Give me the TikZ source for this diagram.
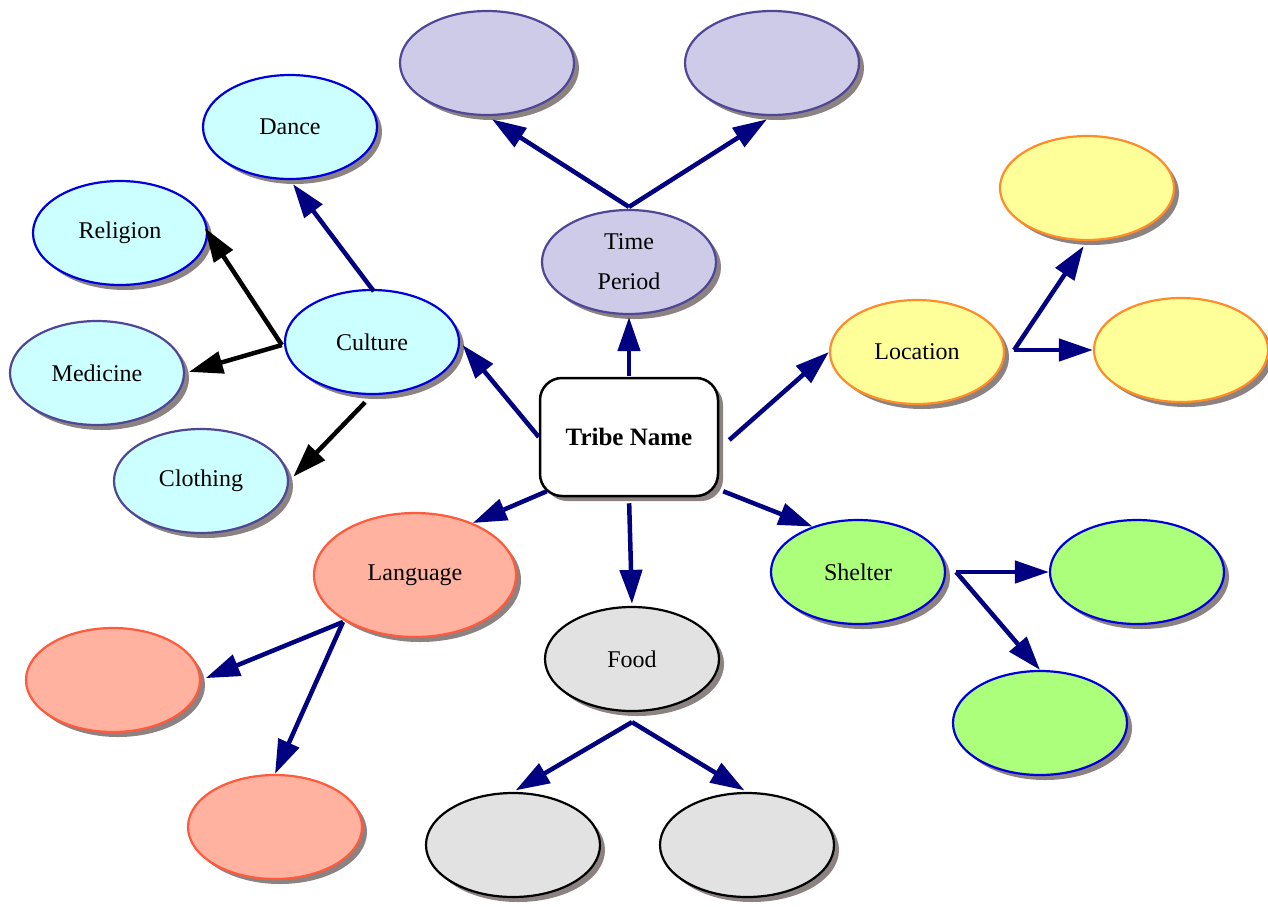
\documentclass[tikz,border=0pt]{standalone}
\usepackage{fontspec}
\setmainfont{Liberation Serif}
\usetikzlibrary{shapes.geometric,arrows.meta,shadows,calc}
\definecolor{navyc}{RGB}{0,0,128}
\definecolor{shadowc}{RGB}{140,130,130}
\definecolor{tpfill}{RGB}{206,203,232}
\definecolor{tpline}{RGB}{80,70,150}
\definecolor{cyfill}{RGB}{204,255,255}
\definecolor{blueline}{RGB}{0,0,220}
\definecolor{yefill}{RGB}{255,255,153}
\definecolor{orline}{RGB}{255,140,40}
\definecolor{grfill}{RGB}{172,255,122}
\definecolor{safill}{RGB}{255,178,160}
\definecolor{saline}{RGB}{255,90,60}
\definecolor{gyfill}{RGB}{226,226,226}
\tikzset{
  bubble/.style={ellipse, minimum width=174pt, minimum height=104pt, inner sep=0pt,
    line width=2.2pt, font=\fontsize{24}{40}\selectfont, align=center,
    drop shadow={shadow xshift=5pt, shadow yshift=-5pt, fill=shadowc, opacity=1}},
  tpb/.style={bubble, fill=tpfill, draw=tpline},
  cyb/.style={bubble, fill=cyfill, draw=blueline},
  cyp/.style={bubble, fill=cyfill, draw=tpline},
  yeb/.style={bubble, fill=yefill, draw=orline},
  grb/.style={bubble, fill=grfill, draw=blueline},
  sab/.style={bubble, fill=safill, draw=saline},
  gyb/.style={bubble, fill=gyfill, draw=black},
  conn/.style={line width=4.5pt, draw=navyc, -{Triangle[length=34pt,width=22pt]}},
  bconn/.style={conn, draw=black},
}
\begin{document}
\begin{tikzpicture}[x=1pt,y=-1pt]
\useasboundingbox (0,0) rectangle (1268,906);
% nodes
\node[draw, line width=2.5pt, rounded corners=22pt, fill=white, minimum width=178pt, minimum height=118pt,
  font=\bfseries\fontsize{25}{28}\selectfont,
  drop shadow={shadow xshift=5pt, shadow yshift=-5pt, fill=shadowc, opacity=1}] (tribe) at (629,437) {Tribe Name};
\node[tpb] (tp) at (629,262) {Time\\Period};
\node[tpb] (tpl) at (487,63) {};
\node[tpb] (tpr) at (772,63) {};
\node[cyb] (culture) at (372,342) {Culture};
\node[cyb] (dance) at (290,127) {Dance};
\node[cyb] (religion) at (120,233) {Religion};
\node[cyp] (medicine) at (97,373) {Medicine};
\node[cyp] (clothing) at (201,481) {Clothing};
\node[yeb] (location) at (917,352) {Location};
\node[yeb] (loctop) at (1087,188) {};
\node[yeb] (locright) at (1181,350) {};
\node[grb] (shelter) at (858,572) {Shelter};
\node[grb] (shright) at (1137,572) {};
\node[grb] (shbottom) at (1040,723) {};
\node[sab, minimum width=202pt, minimum height=124pt] (language) at (415,575) {Language};
\node[sab] (langleft) at (113,680) {};
\node[sab] (langbottom) at (275,827) {};
\node[gyb] (food) at (632,659) {Food};
\node[gyb] (foodl) at (513,845) {};
\node[gyb] (foodr) at (747,845) {};
% branch points
\coordinate (tloc) at ($(tribe.east)+(10,3)$);
\coordinate (tsh) at ($(tribe.south east)+(4,-6)$);
\coordinate (tlang) at ($(tribe.south west)+(8,-6)$);
\coordinate (tpb) at ($(tp.north)+(0,-2)$);
\coordinate (culb) at ($(culture.west)+(-2,3)$);
\coordinate (locb) at ($(location.east)+(9,-2)$);
\coordinate (shb) at ($(shelter.east)+(10,0)$);
\coordinate (langb) at (343,622);
\coordinate (foodb) at ($(food.south)+(0,10)$);
% connectors from center
\draw[conn, shorten <=1pt, shorten >=2pt] (tribe.north) -- (tp.south);
\draw[conn, shorten >=4pt] (tribe.west) -- (culture.east);
\draw[conn] (tloc) -- (location.west);
\draw[conn] (tsh) -- (shelter.135);
\draw[conn, shorten <=6pt, shorten >=2pt] (tribe.south) -- (food.north);
\draw[conn] (tlang) -- (language.42);
% time period
\draw[conn, shorten >=6pt] (tpb) -- (tpl.south);
\draw[conn, shorten >=6pt] (tpb) -- (tpr.south);
% culture
\draw[conn, shorten <=-3pt, shorten >=5pt] (culture.north) -- (dance.south);
\draw[bconn, shorten >=-6pt] (culb) -- (religion.east);
\draw[bconn, shorten >=4pt] (culb) -- (medicine.east);
\draw[bconn, shorten <=10pt, shorten >=6pt] (culture.south) -- (clothing.east);
% location
\draw[conn, shorten >=6pt] (locb) -- (loctop.south);
\draw[conn] (locb) -- (locright.west);
% shelter
\draw[conn] (shb) -- (shright.west);
\draw[conn] (shb) -- (shbottom.north);
% language
\draw[conn, shorten >=5pt] (langb) -- (langleft.east);
\draw[conn] (langb) -- (langbottom.north);
% food
\draw[conn, shorten >=3pt] (foodb) -- (foodl.north);
\draw[conn, shorten >=3pt] (foodb) -- (foodr.north);
\end{tikzpicture}
\end{document}
